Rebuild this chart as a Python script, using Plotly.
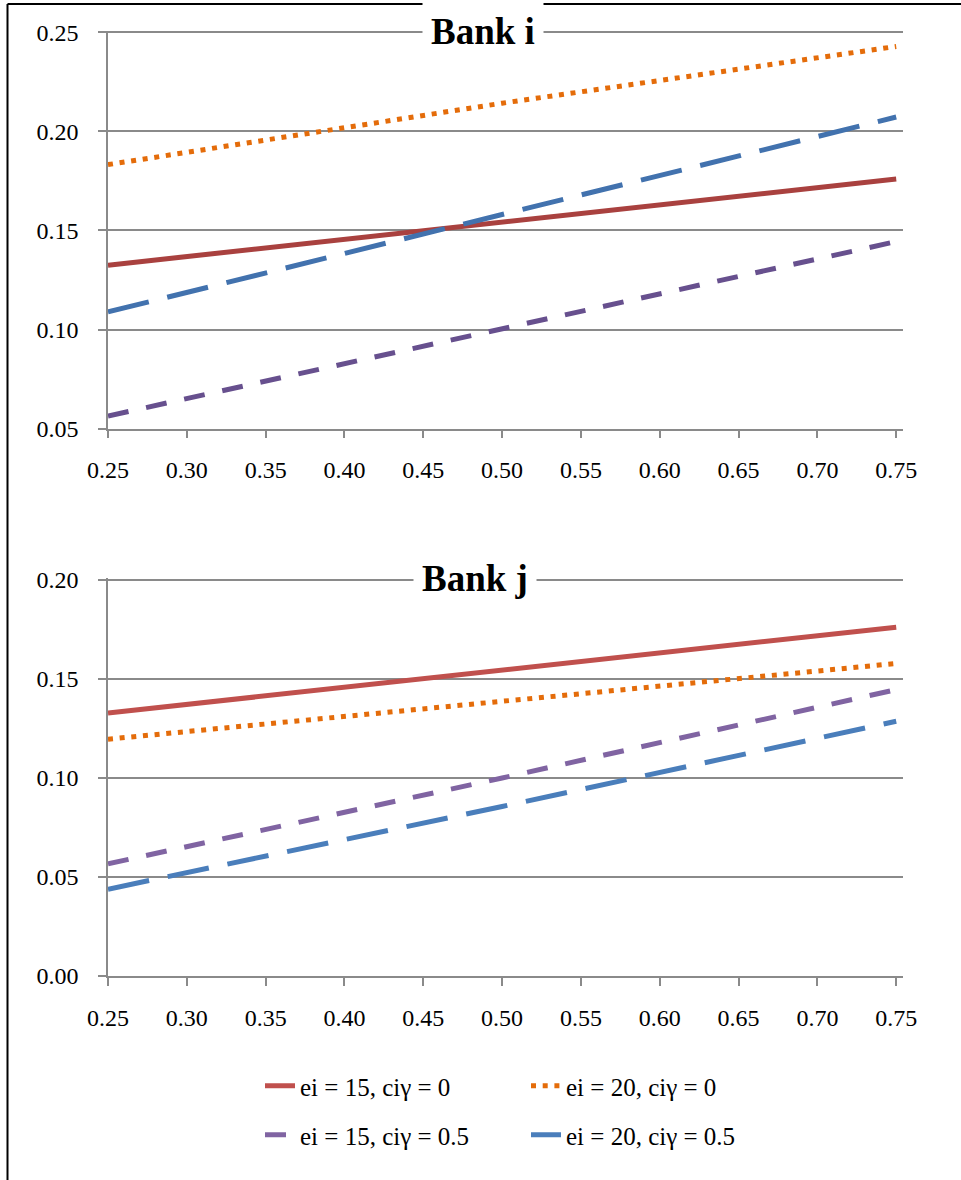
import plotly.graph_objects as go

# ---------------- data ----------------
x_vals = [0.25, 0.50, 0.75]
x_ticks = [0.25, 0.30, 0.35, 0.40, 0.45, 0.50, 0.55, 0.60, 0.65, 0.70, 0.75]

series_names = ["ei = 15, ciγ = 0", "ei = 20, ciγ = 0",
                "ei = 15, ciγ = 0.5", "ei = 20, ciγ = 0.5"]

bank_i_e15_c0 = [0.1325, 0.1542, 0.1759]
bank_i_e20_c0 = [0.1832, 0.2142, 0.2428]
bank_i_e15_c05 = [0.0564, 0.1003, 0.1444]
bank_i_e20_c05 = [0.1089, 0.1579, 0.2072]

bank_j_e15_c0 = [0.1327, 0.1542, 0.1760]
bank_j_e20_c0 = [0.1195, 0.1386, 0.1577]
bank_j_e15_c05 = [0.0566, 0.0999, 0.1445]
bank_j_e20_c05 = [0.0438, 0.0855, 0.1285]

# ---------------- styles ----------------
FONT = "Liberation Serif, Times New Roman, serif"
GRID = "#8a8a8a"
dashes = ["solid", "5px,6.7px", "21px,18px", "42px,19px"]
colors_i = ["#A9413F", "#E46C0A", "#67508E", "#4272AE"]
colors_j = ["#C0504D", "#E46C0A", "#8064A2", "#4A7EBB"]
legend_ids = ["legend", "legend", "legend2", "legend2"]

fig = go.Figure()

bank_i = [bank_i_e15_c0, bank_i_e20_c0, bank_i_e15_c05, bank_i_e20_c05]
bank_j = [bank_j_e15_c0, bank_j_e20_c0, bank_j_e15_c05, bank_j_e20_c05]

for k in range(4):
    fig.add_trace(go.Scatter(
        x=x_vals, y=bank_i[k], mode="lines", name=series_names[k],
        line=dict(color=colors_i[k], width=5, dash=dashes[k]),
        xaxis="x", yaxis="y", showlegend=False, hoverinfo="skip"))
for k in range(4):
    fig.add_trace(go.Scatter(
        x=x_vals, y=bank_j[k], mode="lines", name=series_names[k],
        line=dict(color=colors_j[k], width=5, dash=dashes[k]),
        xaxis="x2", yaxis="y2", showlegend=True, legend=legend_ids[k],
        hoverinfo="skip"))

# ---------------- layout geometry ----------------
W, H = 961, 1180
ML, MR, MT, MB = 108, 58, 31, 204
PW = W - ML - MR
PH = H - MT - MB

def px_x(p):
    return (p - ML) / PW

def px_y(p):
    return 1 - (p - MT) / PH

top_dom = [px_y(428.7), 1.0]
bot_dom = [0.0, px_y(578.4)]

tickfont = dict(family=FONT, size=24, color="black")

xcommon = dict(range=[0.25, 0.7543], tickmode="array", tickvals=x_ticks,
               ticktext=[f"{v:.2f}" for v in x_ticks], showgrid=False,
               zeroline=False, showline=True, linecolor=GRID, linewidth=1.5,
               ticks="outside", ticklen=8, tickwidth=1.5, tickcolor=GRID,
               tickfont=tickfont, ticklabelstandoff=11)
ycommon = dict(dtick=0.05, tickformat=".2f", showgrid=True, gridcolor=GRID,
               gridwidth=1.5, zeroline=False, showline=True, linecolor=GRID,
               linewidth=1.5, ticks="outside", ticklen=8, tickwidth=1.5,
               tickcolor=GRID, tickfont=tickfont, ticklabelstandoff=15,
               tick0=0)

legend_common = dict(orientation="h", xanchor="left", yanchor="middle",
                     font=dict(family=FONT, size=25, color="black"),
                     entrywidth=221, entrywidthmode="pixels",
                     bgcolor="rgba(0,0,0,0)", borderwidth=0, itemwidth=30)

fig.update_layout(
    width=W, height=H,
    margin=dict(l=ML, r=MR, t=MT, b=MB, autoexpand=False),
    paper_bgcolor="white", plot_bgcolor="white",
    font=dict(family=FONT, color="black"),
    xaxis=dict(anchor="y", domain=[0, 1], **xcommon),
    yaxis=dict(anchor="x", domain=top_dom, range=[0.05, 0.2506], **ycommon),
    xaxis2=dict(anchor="y2", domain=[0, 1], **xcommon),
    yaxis2=dict(anchor="x2", domain=bot_dom, range=[0.0, 0.2006], **ycommon),
    legend=dict(x=px_x(260), y=px_y(1086), **legend_common),
    legend2=dict(x=px_x(260), y=px_y(1135), **legend_common),
    annotations=[
        dict(text="<b>Bank i</b>", x=px_x(482.5), y=1.0, xref="paper",
             yref="paper", xanchor="center", yanchor="middle",
             showarrow=False, bgcolor="white", borderpad=8,
             font=dict(family=FONT, size=37, color="black")),
        dict(text="<b>Bank j</b>", x=px_x(475), y=bot_dom[1], xref="paper",
             yref="paper", xanchor="center", yanchor="middle",
             showarrow=False, bgcolor="white", borderpad=8,
             font=dict(family=FONT, size=37, color="black")),
    ],
    shapes=[
        dict(type="line", xref="paper", yref="paper",
             x0=px_x(7.5), x1=px_x(7.5), y0=px_y(4), y1=px_y(1200),
             line=dict(color="black", width=2)),
        dict(type="line", xref="paper", yref="paper",
             x0=px_x(7.5), x1=px_x(980), y0=px_y(4), y1=px_y(4),
             line=dict(color="black", width=2)),
    ],
)

fig.write_html("out.html")
